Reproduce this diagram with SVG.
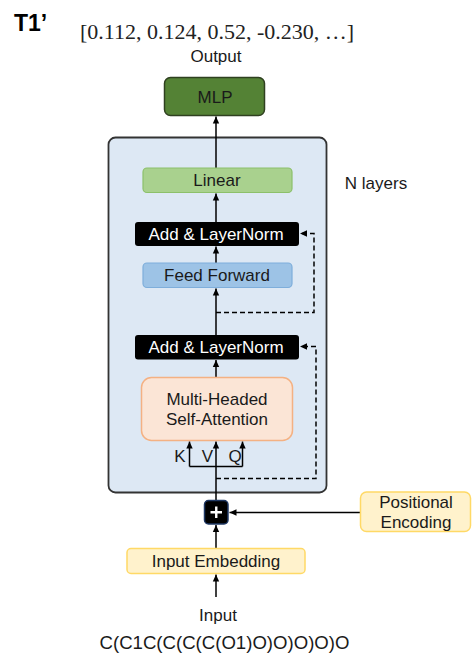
<svg xmlns="http://www.w3.org/2000/svg" width="472" height="654" viewBox="0 0 472 654">
<defs>
<marker id="ah" markerWidth="8" markerHeight="8" refX="7" refY="4" orient="auto" markerUnits="userSpaceOnUse">
<path d="M0,0.8 L7,4 L0,7.2 Z" fill="#000"/>
</marker>
<style>
.t{font-family:"Liberation Sans",Arial,sans-serif;font-size:17px;fill:#1a1a1a;text-anchor:middle;dominant-baseline:central}
.w{fill:#fff}
.ln{stroke:#000;stroke-width:1.5;fill:none}
.ds{stroke:#000;stroke-width:1.5;fill:none;stroke-dasharray:5 3}
</style>
</defs>
<rect width="472" height="654" fill="#fff"/>
<g id="title">
<text x="14" y="31" font-family="Liberation Sans,Arial,sans-serif" font-size="23" font-weight="bold" fill="#000">T1’</text>
<text x="80" y="39" font-family="Liberation Serif,Times New Roman,serif" font-size="22" fill="#222">[0.112, 0.124, 0.52, -0.230, …]</text>
<text class="t" x="216" y="56">Output</text>
</g>
<g id="container">
<rect x="108.5" y="137.5" width="218" height="355" rx="7" fill="#dde8f4" stroke="#333" stroke-width="1.8"/>
<text class="t" x="376" y="183">N layers</text>
</g>
<g id="connectors">
<path class="ln" d="M216,168 V116.5" marker-end="url(#ah)"/>
<path class="ln" d="M216,222 V193.5" marker-end="url(#ah)"/>
<path class="ln" d="M216,263 V246.5" marker-end="url(#ah)"/>
<path class="ln" d="M216,335 V288.5" marker-end="url(#ah)"/>
<path class="ln" d="M216,377 V360" marker-end="url(#ah)"/>
<path class="ln" d="M216,500 V441.5" marker-end="url(#ah)"/>
<path class="ln" d="M189.5,466.5 H242.5"/>
<path class="ln" d="M189.5,466.5 V441.5" marker-end="url(#ah)"/>
<path class="ln" d="M242.5,466.5 V441.5" marker-end="url(#ah)"/>
<path class="ds" d="M216,312.5 H314 V233.5 H300" marker-end="url(#ah)"/>
<path class="ds" d="M216,478.5 H316 V346.5 H300" marker-end="url(#ah)"/>
<path class="ln" d="M360,512.5 H229.5" marker-end="url(#ah)"/>
<path class="ln" d="M216,548 V525" marker-end="url(#ah)"/>
<path class="ln" d="M216,597 V574.5" marker-end="url(#ah)"/>
</g>
<g id="mlp">
<rect x="164.5" y="77.5" width="100" height="38" rx="6" fill="#548235" stroke="#2f4020" stroke-width="1.5"/>
<text class="t" x="215" y="97">MLP</text>
</g>
<g id="linear">
<rect x="143" y="168" width="149" height="24.5" rx="4" fill="#a9d18e" stroke="#8cc06a" stroke-width="1.2"/>
<text class="t" x="217" y="180.5">Linear</text>
</g>
<g id="addnorm2">
<rect x="135" y="222" width="164" height="24" rx="3" fill="#000"/>
<text class="t w" x="216" y="234">Add &amp; LayerNorm</text>
</g>
<g id="feedforward">
<rect x="143" y="263" width="149" height="24.5" rx="4" fill="#9dc3e6" stroke="#7eaedb" stroke-width="1.2"/>
<text class="t" x="217" y="275.5">Feed Forward</text>
</g>
<g id="addnorm1">
<rect x="135" y="335" width="164" height="24.5" rx="3" fill="#000"/>
<text class="t w" x="216" y="347.5">Add &amp; LayerNorm</text>
</g>
<g id="attention">
<rect x="141.5" y="377.5" width="151" height="63" rx="10" fill="#fbe5d6" stroke="#f4b183" stroke-width="1.5"/>
<text class="t" x="217" y="399.5">Multi-Headed</text>
<text class="t" x="217" y="419.5">Self-Attention</text>
<text class="t" x="180" y="456">K</text>
<text class="t" x="207.5" y="456">V</text>
<text class="t" x="235" y="456">Q</text>
</g>
<g id="plus">
<rect x="204.5" y="500.5" width="23.5" height="23.5" rx="4" fill="#000" stroke="#1f3864" stroke-width="1.5"/>
<path d="M216.25,506.5 V518 M210.5,512.25 H222" stroke="#fff" stroke-width="2.4"/>
</g>
<g id="posenc">
<rect x="360.5" y="492" width="110" height="39.5" rx="6" fill="#fff2cc" stroke="#ffd966" stroke-width="1.5"/>
<text class="t" x="416" y="502.5">Positional</text>
<text class="t" x="416" y="522">Encoding</text>
</g>
<g id="embedding">
<rect x="127" y="548.5" width="178" height="25" rx="4" fill="#fff2cc" stroke="#ffd966" stroke-width="1.5"/>
<text class="t" x="216" y="561">Input Embedding</text>
</g>
<g id="input">
<text class="t" x="218" y="615">Input</text>
<text class="t" x="224.5" y="642" style="font-size:18.6px">C(C1C(C(C(C(O1)O)O)O)O)O</text>
</g>
</svg>
